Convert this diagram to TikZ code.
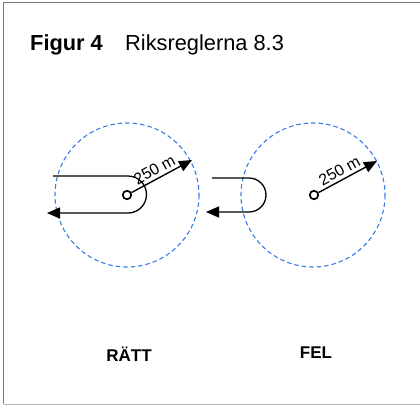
\documentclass[tikz,border=0pt]{standalone}
\usepackage{fontspec}
\setmainfont{Liberation Sans}
\usetikzlibrary{arrows.meta}
\definecolor{zoneblue}{HTML}{3A7BE8}
\definecolor{framegray}{HTML}{777777}
\begin{document}
\begin{tikzpicture}[x=1pt,y=-1pt,
  zone/.style={draw=zoneblue,dash pattern=on 4.5pt off 3pt,line width=1.1pt},
  track/.style={draw=black,line width=1.3pt,-{Triangle[length=13pt,width=11pt]}},
  radius arrow/.style={draw=black,line width=1.4pt,-{Triangle[length=13pt,width=11pt]}},
  centre/.style={circle,draw=black,fill=white,line width=1.7pt,minimum size=8.5pt,inner sep=0pt},
  lbl/.style={font=\fontsize{16}{16}\selectfont,inner sep=1.5pt},
  verdict/.style={font=\fontsize{17}{17}\selectfont\bfseries}]
\useasboundingbox (0,0) rectangle (420,405);
\draw[framegray,line width=1.2pt] (420,2.5) -- (3.5,2.5) -- (3.5,404);
\draw[gray!60,line width=1pt] (3.5,404) -- (420,404);
\node[anchor=base west,inner sep=0pt,font=\fontsize{21.8}{21.8}\selectfont\bfseries] (fig) at (30,50) {Figur 4};
\node[anchor=base west,inner sep=0pt,font=\fontsize{21.8}{21.8}\selectfont] (rr) at (125,50) {Riksreglerna 8.3};
% left: correct
\draw[zone] (127,195) circle[radius=72];
\draw[track] (53,176) -- (128,176) arc[start angle=-90,end angle=90,radius=18.5] -- (47,213);
\node[centre] (c1) at (127,195) {};
\coordinate (t1) at (192,160);
\draw[radius arrow] (c1) -- (t1);
\node[lbl,rotate=29,anchor=south] (l1) at (158,176) {250 m};
\node[verdict] (v1) at (129,354) {RÄTT};
% right: wrong
\draw[zone] (313,195) circle[radius=72];
\draw[track] (212,178) -- (249,178) arc[start angle=-90,end angle=90,radius=17] -- (206,212);
\node[centre] (c2) at (314,195) {};
\coordinate (t2) at (377,161);
\draw[radius arrow] (c2) -- (t2);
\node[lbl,rotate=29,anchor=south] (l2) at (343,177) {250 m};
\node[verdict] (v2) at (316,353) {FEL};
\end{tikzpicture}
\end{document}
